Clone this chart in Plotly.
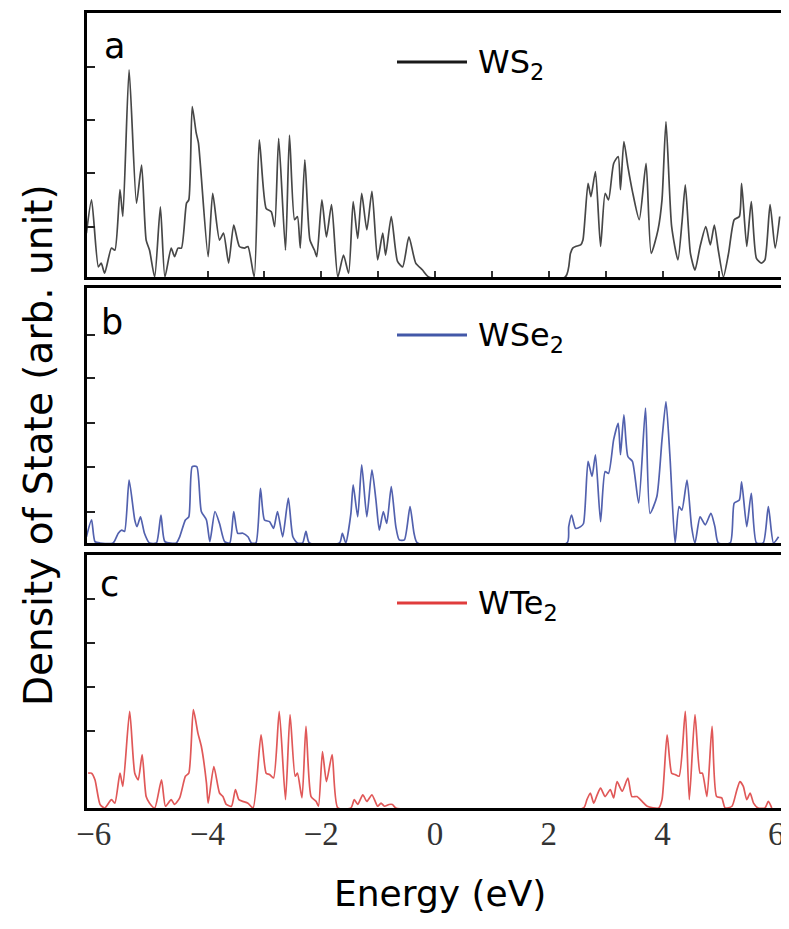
import plotly.graph_objects as go

# density of states, energy in eV, DOS in arb. units
energy_ws2 = [-6.13, -6.04, -5.92, -5.87, -5.81, -5.69, -5.63, -5.54, -5.49, -5.38, -5.25, -5.16, -5.08, -5.02,
              -4.93, -4.83, -4.75, -4.64, -4.58, -4.52, -4.46, -4.37, -4.33, -4.27, -4.20, -4.16, -3.99, -3.91,
              -3.79, -3.72, -3.63, -3.54, -3.44, -3.35, -3.29, -3.18, -3.09, -2.97, -2.88, -2.82, -2.75, -2.63,
              -2.56, -2.47, -2.42, -2.37, -2.29, -2.20, -2.12, -2.08, -1.99, -1.91, -1.82, -1.71, -1.61, -1.52,
              -1.44, -1.36, -1.29, -1.20, -1.11, -1.01, -0.92, -0.87, -0.77, -0.66, -0.57, -0.46, -0.34, -0.22,
              -0.11, 2.29, 2.38, 2.42, 2.47, 2.56, 2.60, 2.69, 2.74, 2.82, 2.91, 2.99, 3.05, 3.14, 3.22, 3.26,
              3.32, 3.39, 3.47, 3.59, 3.71, 3.80, 3.92, 3.99, 4.06, 4.16, 4.27, 4.34, 4.40, 4.49, 4.57, 4.66,
              4.76, 4.84, 4.91, 4.98, 5.07, 5.16, 5.26, 5.35, 5.39, 5.48, 5.56, 5.65, 5.74, 5.80, 5.89, 5.98, 6.06]
dos_ws2 = [0.82, 1.44, 0.19, 0.26, 0.07, 0.54, 0.50, 1.63, 1.13, 3.87, 1.38, 2.09, 0.69, 0.50,
           0.00, 1.31, 0.00, 0.54, 0.38, 0.54, 0.54, 1.38, 1.44, 3.18, 2.69, 2.50, 0.38, 1.56,
           0.69, 0.82, 0.26, 0.97, 0.57, 0.54, 0.57, 0.00, 2.56, 1.28, 1.22, 0.94, 2.59, 0.50,
           2.65, 1.07, 1.13, 0.54, 2.19, 0.69, 0.50, 0.38, 1.44, 0.75, 1.35, 0.00, 0.41, 0.07,
           1.41, 0.72, 1.56, 0.88, 1.60, 0.32, 0.82, 0.41, 1.13, 0.29, 0.19, 0.75, 0.26, 0.13,
           0.00, 0.00, 0.44, 0.54, 0.57, 0.60, 0.69, 1.75, 1.50, 1.97, 0.57, 1.56, 1.44, 2.12, 2.25, 1.63,
           2.53, 2.06, 1.60, 1.07, 2.12, 0.44, 0.88, 1.44, 2.90, 0.94, 0.32, 1.00, 1.72, 0.44, 0.13, 0.57,
           0.94, 0.60, 0.97, 0.50, 0.00, 0.44, 1.07, 1.13, 1.75, 0.57, 1.41, 0.35, 0.26, 0.32, 1.35, 0.54, 1.13]

energy_wse2 = [-6.13, -6.04, -5.98, -5.89, -5.66, -5.57, -5.51, -5.46, -5.38, -5.28, -5.24, -5.18, -5.11, -5.02,
               -4.90, -4.82, -4.75, -4.55, -4.49, -4.39, -4.33, -4.27, -4.19, -4.11, -4.02, -3.96, -3.87, -3.79,
               -3.70, -3.61, -3.54, -3.47, -3.38, -3.29, -3.23, -3.15, -3.07, -3.00, -2.91, -2.84, -2.77, -2.68,
               -2.58, -2.50, -2.42, -2.33, -2.27, -2.21, -1.68, -1.63, -1.57, -1.48, -1.44, -1.36, -1.29, -1.20,
               -1.11, -1.04, -0.98, -0.91, -0.85, -0.77, -0.69, -0.63, -0.54, -0.44, -0.37, -0.31,
               2.32, 2.35, 2.40, 2.47, 2.56, 2.61, 2.69, 2.76, 2.82, 2.91, 2.99, 3.05, 3.14, 3.22, 3.26, 3.32,
               3.39, 3.47, 3.58, 3.70, 3.78, 3.90, 3.99, 4.06, 4.13, 4.22, 4.29, 4.34, 4.43, 4.51, 4.57, 4.66,
               4.75, 4.85, 4.92, 4.98, 5.19, 5.26, 5.35, 5.39, 5.48, 5.56, 5.65, 5.77, 5.86, 5.95, 6.04]
dos_wse2 = [0.14, 0.52, 0.03, 0.00, 0.00, 0.22, 0.29, 0.26, 1.42, 0.52, 0.37, 0.59, 0.22, 0.00,
            0.00, 0.63, 0.03, 0.00, 0.14, 0.52, 0.59, 1.72, 1.72, 0.71, 0.52, 0.03, 0.71, 0.44,
            0.03, 0.00, 0.71, 0.22, 0.22, 0.14, 0.00, 0.00, 1.23, 0.52, 0.48, 0.33, 0.71, 0.14,
            1.01, 0.14, 0.00, 0.00, 0.26, 0.00, 0.00, 0.22, 0.00, 0.67, 1.31, 0.59, 1.76, 0.59,
            1.65, 0.97, 0.29, 0.71, 0.44, 1.27, 0.37, 0.07, 0.07, 0.82, 0.22, 0.00,
            0.00, 0.37, 0.63, 0.33, 0.37, 0.44, 1.84, 1.50, 1.99, 0.48, 1.61, 1.57, 2.33, 2.70, 1.99, 2.89,
            1.95, 1.84, 0.90, 3.04, 0.67, 1.05, 2.33, 3.19, 1.95, 0.00, 0.82, 0.74, 1.42, 0.37, 0.00, 0.59,
            0.41, 0.67, 0.37, 0.00, 0.00, 0.90, 0.97, 1.38, 0.37, 1.12, 0.00, 0.00, 0.82, 0.00, 0.14]

energy_wte2 = [-6.10, -6.04, -5.98, -5.89, -5.81, -5.69, -5.63, -5.54, -5.49, -5.37, -5.28, -5.22, -5.15, -5.08,
               -5.02, -4.93, -4.81, -4.74, -4.64, -4.58, -4.49, -4.39, -4.33, -4.25, -4.17, -4.11, -4.02, -3.99,
               -3.89, -3.79, -3.73, -3.67, -3.58, -3.51, -3.45, -3.38, -3.29, -3.20, -3.06, -2.97, -2.91, -2.84,
               -2.74, -2.63, -2.55, -2.46, -2.42, -2.34, -2.27, -2.18, -2.09, -2.05, -1.98, -1.91, -1.81, -1.71,
               -1.48, -1.42, -1.36, -1.27, -1.20, -1.11, -1.01, -0.95, -0.89, -0.81, -0.75, -0.69,
               2.61, 2.67, 2.73, 2.79, 2.85, 2.91, 2.99, 3.08, 3.14, 3.20, 3.29, 3.39, 3.46, 3.55, 3.64, 3.73,
               3.93, 3.99, 4.08, 4.16, 4.22, 4.29, 4.40, 4.47, 4.57, 4.66, 4.70, 4.78, 4.87, 4.95, 5.04, 5.10,
               5.22, 5.30, 5.36, 5.42, 5.48, 5.54, 5.60, 5.68, 5.80, 5.86, 5.92]
dos_wte2 = [0.79, 0.79, 0.64, 0.08, 0.00, 0.19, 0.11, 0.79, 0.49, 2.19, 0.79, 0.64, 1.21, 0.26,
            0.11, 0.00, 0.64, 0.04, 0.19, 0.08, 0.23, 0.72, 0.79, 2.23, 1.70, 1.40, 0.57, 0.11,
            0.94, 0.34, 0.26, 0.08, 0.04, 0.42, 0.19, 0.15, 0.11, 0.00, 1.66, 0.79, 0.76, 0.68,
            2.19, 0.19, 2.12, 0.72, 0.79, 0.23, 1.85, 0.26, 0.15, 0.04, 1.28, 0.60, 1.21, 0.00,
            0.00, 0.19, 0.08, 0.30, 0.15, 0.30, 0.04, 0.11, 0.04, 0.08, 0.08, 0.00,
            0.00, 0.19, 0.34, 0.11, 0.30, 0.45, 0.26, 0.42, 0.23, 0.60, 0.38, 0.68, 0.26, 0.26, 0.15, 0.04,
            0.00, 0.19, 1.66, 0.79, 0.76, 0.72, 2.19, 0.19, 2.12, 0.79, 0.79, 0.26, 1.85, 0.26, 0.23, 0.00,
            0.04, 0.38, 0.60, 0.49, 0.19, 0.34, 0.11, 0.00, 0.00, 0.15, 0.00]

panel_letters = ["a", "b", "c"]
compounds = ["WS<sub>2</sub>", "WSe<sub>2</sub>", "WTe<sub>2</sub>"]
x_ticks = [-6, -4, -2, 0, 2, 4, 6]

curve_colors = ["#474747", "#5261ae", "#e05858"]
legend_colors = ["#1a1a1a", "#4358a8", "#e03c3c"]

# the page body has an 8px margin; keep the figure short enough that no scrollbar shows
W, H = 781, 908
OFF = 8


def px(x):
    return (x - OFF) / W


def py(y):
    return 1 - (y - OFF) / H


x_dom = [px(87), px(782)]
y_doms = [[py(277), py(13)], [py(543), py(288)], [py(808), py(555)]]
y_ranges = [[0, 4.93], [0, 5.75], [0, 5.74]]
y_tickvals = [[0.94, 1.94, 2.93, 3.93],
              [0.71, 1.72, 2.70, 3.72, 4.70],
              [1.74, 2.74, 3.74, 4.74]]

series = [(energy_ws2, dos_ws2), (energy_wse2, dos_wse2), (energy_wte2, dos_wte2)]

fig = go.Figure()
for i, (e, d) in enumerate(series):
    sfx = "" if i == 0 else str(i + 1)
    fig.add_trace(go.Scatter(x=e, y=d, mode="lines", xaxis="x" + sfx, yaxis="y" + sfx,
                             line=dict(color=curve_colors[i], width=1.7, shape="spline", smoothing=0.6),
                             showlegend=False, hoverinfo="skip"))

layout = dict(width=W, height=H, margin=dict(l=0, r=0, t=0, b=0),
              paper_bgcolor="white", plot_bgcolor="white", showlegend=False)

for i in range(3):
    sfx = "" if i == 0 else str(i + 1)
    layout["xaxis" + sfx] = dict(
        domain=x_dom, range=[-6.12, 6.1], anchor="y" + sfx, automargin=False,
        showline=True, linecolor="black", linewidth=3, mirror=True,
        showgrid=False, zeroline=False,
        tickvals=x_ticks, showticklabels=(i == 2), ticklabeloverflow="allow",
        ticks="", tickfont=dict(family="Liberation Serif, Times New Roman, serif", size=33, color="#333"),
        ticklabelstandoff=-6,
    )
    layout["yaxis" + sfx] = dict(
        domain=y_doms[i], range=y_ranges[i], anchor="x" + sfx, automargin=False,
        showline=True, linecolor="black", linewidth=3, mirror=True,
        showgrid=False, zeroline=False,
        tickvals=y_tickvals[i], showticklabels=False,
        ticks="inside", ticklen=8, tickwidth=2, tickcolor="#222",
    )

# small inside ticks along the bottom of panel a
layout["xaxis"].update(ticks="inside", ticklen=6, tickwidth=1.5, tickcolor="#333",
                       tickvals=[-4, -3, -2, -1, 0, 1, 2, 3, 4, 5])

fig.update_layout(**layout)

# panel letters
letter_pos = [(114, 46), (112, 322), (109, 584)]
for i, (lx, ly) in enumerate(letter_pos):
    fig.add_annotation(x=px(lx), y=py(ly), xref="paper", yref="paper",
                       text=panel_letters[i], showarrow=False, xanchor="center", yanchor="middle",
                       font=dict(family="DejaVu Sans", size=35, color="black"))

# legends drawn as a short line + compound name
legend_y = [62, 335, 603]
for i in range(3):
    yl = py(legend_y[i])
    fig.add_shape(type="line", xref="paper", yref="paper",
                  x0=px(397), x1=px(467), y0=yl, y1=yl,
                  line=dict(color=legend_colors[i], width=3))
    fig.add_annotation(x=px(476), y=py(legend_y[i] + 2), xref="paper", yref="paper",
                       text=compounds[i], showarrow=False, xanchor="left", yanchor="middle",
                       font=dict(family="DejaVu Sans", size=32, color="black"))

# axis titles
fig.add_annotation(x=px(440), y=py(893), xref="paper", yref="paper",
                   text="Energy (eV)", showarrow=False, xanchor="center", yanchor="middle",
                   font=dict(family="DejaVu Sans", size=36, color="black"))
fig.add_annotation(x=px(38), y=py(445), xref="paper", yref="paper",
                   text="Density of State (arb. unit)", showarrow=False, textangle=-90,
                   xanchor="center", yanchor="middle",
                   font=dict(family="DejaVu Sans", size=39, color="black"))

fig.write_html("out.html")
